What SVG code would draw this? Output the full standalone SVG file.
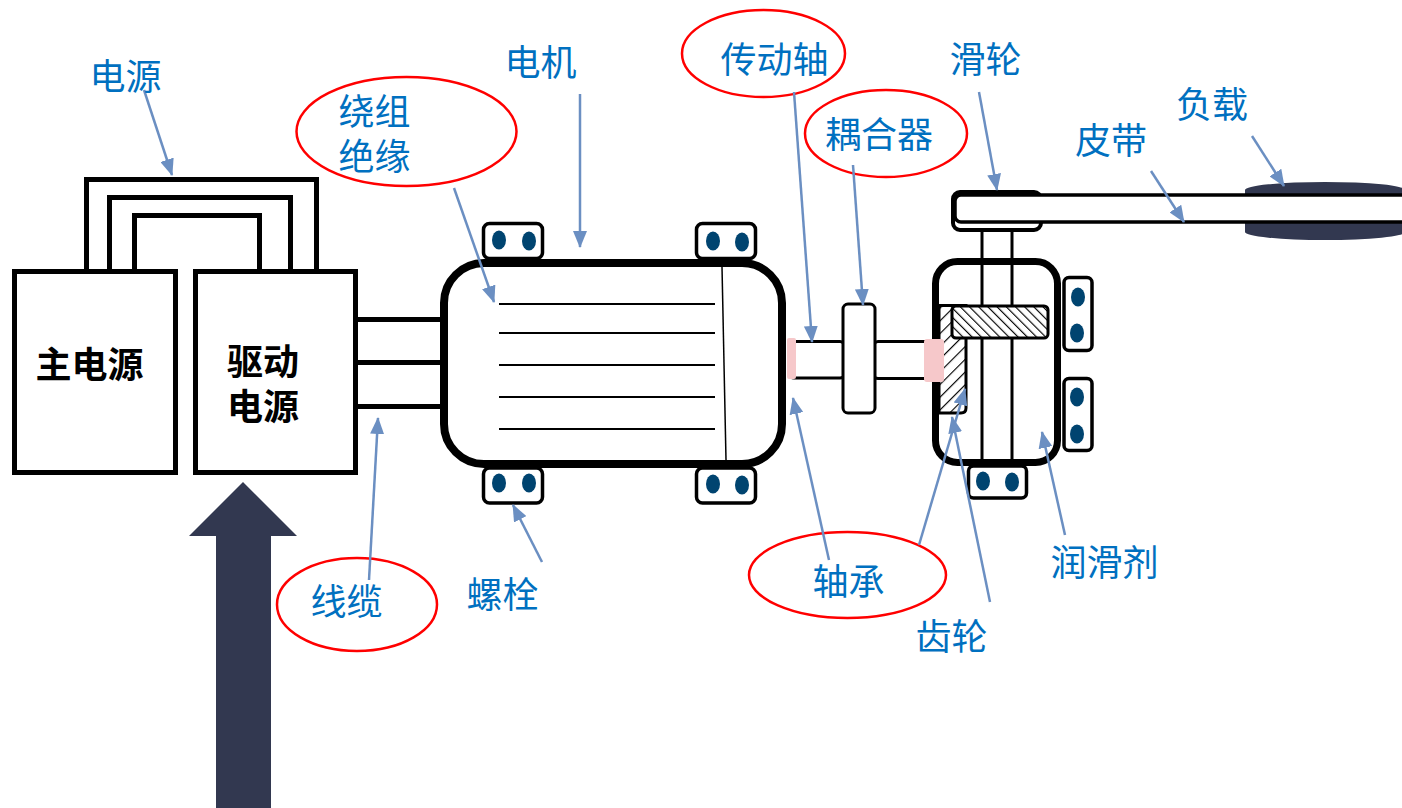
<svg xmlns="http://www.w3.org/2000/svg" width="1402" height="808" viewBox="0 0 1402 808">
  <defs>
    <style>
      .ln { fill: none; stroke: #000; stroke-width: 5; }
      .box { fill: #fff; stroke: #000; stroke-width: 5; }
      .bolt { fill: #fff; stroke: #000; stroke-width: 3.5; }
      .dot { fill: #004470; }
      .thin { fill: #fff; stroke: #000; stroke-width: 3; }
      .wind { stroke: #000; stroke-width: 2; }
      .brg { fill: #f6c8ca; }
      .lbl { font-family: "Noto Sans CJK SC", "Noto Sans", sans-serif; font-size: 36px; fill: #0070c0; text-anchor: middle; }
      .blk { font-family: "Noto Sans CJK SC", "Noto Sans", sans-serif; font-size: 36px; font-weight: 700; fill: #000; text-anchor: middle; }
      .ring { fill: none; stroke: #ff0000; stroke-width: 2.5; }
      .conn { fill: none; stroke: #6b8fc2; stroke-width: 2.5; marker-end: url(#head); }
    </style>
    <marker id="head" markerUnits="userSpaceOnUse" markerWidth="17" markerHeight="14" refX="16" refY="7" orient="auto">
      <path d="M0,0 L17,7 L0,14 Z" fill="#6b8fc2"/>
    </marker>
    <pattern id="hatchBack" patternUnits="userSpaceOnUse" width="6.5" height="6.5" patternTransform="rotate(-45)">
      <rect width="6.5" height="6.5" fill="#fff"/>
      <line x1="0" y1="0" x2="0" y2="6.5" stroke="#000" stroke-width="2.3"/>
    </pattern>
    <pattern id="hatchFwd" patternUnits="userSpaceOnUse" width="9" height="9" patternTransform="rotate(45)">
      <rect width="9" height="9" fill="#fff"/>
      <line x1="0" y1="0" x2="0" y2="9" stroke="#000" stroke-width="2.3"/>
    </pattern>
  </defs>

  <rect width="1402" height="808" fill="#fff"/>

  <!-- input power arrow -->
  <g id="input-arrow">
    <polygon points="243,482 297,536 271,536 271,808 216,808 216,536 189,536" fill="#323850"/>
  </g>

  <!-- power supplies with linking wires -->
  <g id="power-link">
    <path class="ln" d="M86.5,272 V179.5 H316.5 V272"/>
    <path class="ln" d="M109.5,272 V197.5 H290.5 V272"/>
    <path class="ln" d="M134.5,272 V215.5 H259.5 V272"/>
  </g>
  <g id="main-supply">
    <rect class="box" x="14.5" y="271.5" width="161" height="201"/>
    <text class="blk" x="89.5" y="377.5">主电源</text>
  </g>
  <g id="drive-supply">
    <rect class="box" x="195.5" y="271.5" width="160" height="201"/>
    <text class="blk" x="263" y="374.5">驱动<tspan x="263" dy="45">电源</tspan></text>
  </g>

  <!-- cable to motor -->
  <g id="cable">
    <line class="ln" x1="356" y1="319.5" x2="446" y2="319.5"/>
    <line class="ln" x1="356" y1="362.5" x2="446" y2="362.5"/>
    <line class="ln" x1="356" y1="406.5" x2="446" y2="406.5"/>
  </g>

  <!-- motor -->
  <g id="motor">
    <rect x="444" y="263" width="338" height="201" rx="40" fill="#fff" stroke="#000" stroke-width="8"/>
    <line class="wind" x1="499" y1="304" x2="715" y2="304"/>
    <line class="wind" x1="499" y1="333" x2="715" y2="333"/>
    <line class="wind" x1="499" y1="365" x2="715" y2="365"/>
    <line class="wind" x1="499" y1="397" x2="715" y2="397"/>
    <line class="wind" x1="499" y1="429" x2="715" y2="429"/>
    <line x1="722" y1="267" x2="726" y2="460" stroke="#000" stroke-width="1.5"/>
  </g>
  <g id="motor-bolts">
    <rect class="bolt" x="483.5" y="223.5" width="59" height="35" rx="6"/>
    <ellipse class="dot" cx="499" cy="240" rx="7" ry="9.5"/>
    <ellipse class="dot" cx="529" cy="241" rx="7" ry="9.5"/>
    <rect class="bolt" x="696.5" y="223.5" width="59" height="35" rx="6"/>
    <ellipse class="dot" cx="713" cy="241" rx="7" ry="9.5"/>
    <ellipse class="dot" cx="742" cy="242" rx="7" ry="9.5"/>
    <rect class="bolt" x="483.5" y="468" width="59" height="35" rx="6"/>
    <ellipse class="dot" cx="499" cy="483" rx="7" ry="9.5"/>
    <ellipse class="dot" cx="529" cy="483" rx="7" ry="9.5"/>
    <rect class="bolt" x="696.5" y="468" width="59" height="35" rx="6"/>
    <ellipse class="dot" cx="713" cy="484" rx="7" ry="9.5"/>
    <ellipse class="dot" cx="742" cy="485" rx="7" ry="9.5"/>
  </g>

  <!-- drive shaft and coupling -->
  <g id="shaft">
    <rect class="thin" x="790" y="341.5" width="54" height="36.5" rx="4"/>
    <rect class="thin" x="874" y="341.5" width="56" height="37" rx="4"/>
    <rect class="brg" x="787" y="338" width="9" height="41" rx="2"/>
  </g>
  <g id="coupling">
    <rect class="thin" x="843" y="304" width="32" height="109" rx="5"/>
  </g>

  <!-- gearbox -->
  <g id="gearbox">
    <rect x="935.5" y="261.5" width="122" height="201" rx="22" fill="#fff" stroke="#000" stroke-width="7"/>
    <line x1="982" y1="230" x2="982" y2="460" stroke="#000" stroke-width="3"/>
    <line x1="1012" y1="230" x2="1012" y2="460" stroke="#000" stroke-width="3"/>
    <path d="M939,305.5 H966 V408 Q966,413 961,413 H939 Z" fill="url(#hatchFwd)" stroke="#000" stroke-width="3"/>
    <rect x="952" y="306" width="96" height="32" rx="4" fill="url(#hatchBack)" stroke="#000" stroke-width="3"/>
    <rect class="brg" x="924" y="339" width="20" height="43" rx="3"/>
  </g>
  <g id="gearbox-bolts">
    <rect class="bolt" x="1064" y="277.5" width="28" height="73" rx="5"/>
    <ellipse class="dot" cx="1078" cy="297" rx="7" ry="9.5"/>
    <ellipse class="dot" cx="1077" cy="333" rx="7" ry="9.5"/>
    <rect class="bolt" x="1064" y="378.5" width="28" height="72" rx="5"/>
    <ellipse class="dot" cx="1077" cy="397" rx="7" ry="9.5"/>
    <ellipse class="dot" cx="1077" cy="434" rx="7" ry="9.5"/>
    <rect class="bolt" x="968.5" y="466" width="58" height="32" rx="5"/>
    <ellipse class="dot" cx="983" cy="481" rx="7" ry="9.5"/>
    <ellipse class="dot" cx="1012" cy="482" rx="7" ry="9.5"/>
  </g>

  <!-- load drum -->
  <g id="load">
    <path d="M1245,190 A80,8 0 0 1 1405,190 V232 A80,8 0 0 1 1245,232 Z" fill="#323850"/>
  </g>

  <!-- pulley and belt -->
  <g id="pulley">
    <rect x="953" y="192" width="88" height="38" rx="7" fill="#fff" stroke="#000" stroke-width="4"/>
  </g>
  <g id="belt">
    <rect x="955" y="195" width="480" height="27" rx="6" fill="#fff" stroke="#000" stroke-width="3.5"/>
  </g>

  <!-- callout rings -->
  <g id="rings">
    <ellipse class="ring" cx="406.5" cy="131.5" rx="110" ry="54.5"/>
    <ellipse class="ring" cx="763.5" cy="53.5" rx="81.5" ry="43.5"/>
    <ellipse class="ring" cx="886" cy="133.5" rx="81" ry="43.5"/>
    <ellipse class="ring" cx="847.5" cy="575" rx="98.5" ry="43"/>
    <ellipse class="ring" cx="357" cy="604.5" rx="80" ry="46.5"/>
  </g>

  <!-- leader arrows -->
  <g id="connectors">
    <line class="conn" x1="144" y1="90" x2="172" y2="175"/>
    <line class="conn" x1="454" y1="188" x2="494" y2="302"/>
    <line class="conn" x1="580" y1="94" x2="580" y2="247"/>
    <line class="conn" x1="794" y1="92" x2="812" y2="342"/>
    <line class="conn" x1="853" y1="165" x2="863" y2="305"/>
    <line class="conn" x1="979" y1="92" x2="997" y2="190"/>
    <line class="conn" x1="1151" y1="171" x2="1184" y2="222"/>
    <line class="conn" x1="1252" y1="136" x2="1284" y2="186"/>
    <line class="conn" x1="369" y1="580" x2="378" y2="418"/>
    <line class="conn" x1="542" y1="562" x2="513" y2="505"/>
    <line class="conn" x1="829" y1="560" x2="793" y2="398"/>
    <line class="conn" x1="919" y1="545" x2="965" y2="389"/>
    <line class="conn" x1="990" y1="602" x2="952" y2="417"/>
    <line class="conn" x1="1065" y1="535" x2="1042" y2="432"/>
  </g>

  <!-- labels -->
  <g id="label-power"><text class="lbl" x="125.5" y="90">电源</text></g>
  <g id="label-winding"><text class="lbl" x="374.5" y="124.5">绕组<tspan x="374.5" dy="45">绝缘</tspan></text></g>
  <g id="label-motor"><text class="lbl" x="540.5" y="75.5">电机</text></g>
  <g id="label-shaft"><text class="lbl" x="774.5" y="72.5">传动轴</text></g>
  <g id="label-coupling"><text class="lbl" x="879" y="147.5">耦合器</text></g>
  <g id="label-pulley"><text class="lbl" x="985.5" y="72.5">滑轮</text></g>
  <g id="label-load"><text class="lbl" x="1212" y="117.5">负载</text></g>
  <g id="label-belt"><text class="lbl" x="1111" y="153.5">皮带</text></g>
  <g id="label-lube"><text class="lbl" x="1104.5" y="575.5">润滑剂</text></g>
  <g id="label-bearing"><text class="lbl" x="848.5" y="594.5">轴承</text></g>
  <g id="label-gear"><text class="lbl" x="951.5" y="649.5">齿轮</text></g>
  <g id="label-bolt"><text class="lbl" x="502.5" y="607.5">螺栓</text></g>
  <g id="label-cable"><text class="lbl" x="346.5" y="614.5">线缆</text></g>
</svg>
